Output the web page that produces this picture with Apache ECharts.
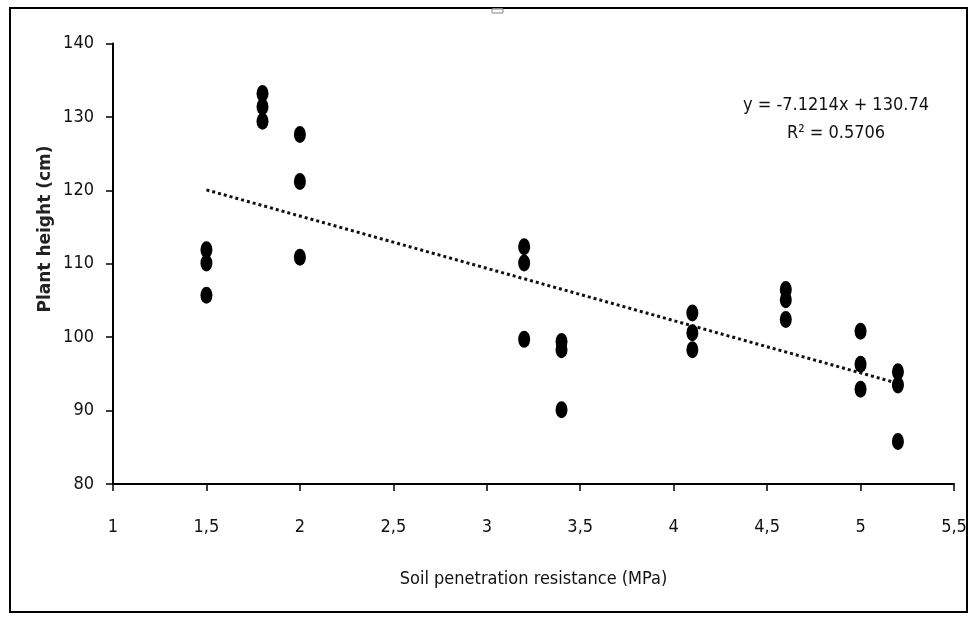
<!DOCTYPE html>
<html>
<head>
<meta charset="utf-8">
<script src="https://cdn.jsdelivr.net/npm/echarts@6/dist/echarts.min.js"></script>
<style>
  html, body { margin: 0; padding: 0; background: #fff; }
  #chart { width: 976px; height: 622px; }
</style>
</head>
<body>
<div id="chart"></div>
<script>
// soil penetration resistance (MPa) for each observation
const resistance = [
  1.5, 1.5, 1.5,
  1.8, 1.8, 1.8,
  2.0, 2.0, 2.0,
  3.2, 3.2, 3.2,
  3.4, 3.4, 3.4,
  4.1, 4.1, 4.1,
  4.6, 4.6, 4.6,
  5.0, 5.0, 5.0,
  5.2, 5.2, 5.2
]
// plant height (cm)
const plantHeight = [
  111.9, 110.1, 105.7,
  133.2, 131.4, 129.4,
  127.6, 121.2, 110.9,
  112.3, 110.1, 99.7,
  99.4, 98.3, 90.1,
  103.3, 100.6, 98.3,
  106.5, 105.1, 102.4,
  100.8, 96.3, 92.9,
  95.3, 93.5, 85.8
]
// linear trend line end points
const trendX = [1.5, 5.2]
const trendY = [120.06, 93.71]
const equationLines = ['y = -7.1214x + 130.74', 'R² = 0.5706']
const yTitle = 'Plant height (cm)'
const xTitle = 'Soil penetration resistance (MPa)'

const narrow = '"Liberation Sans Narrow", "DejaVu Sans Condensed", sans-serif'

const chart = echarts.init(document.getElementById('chart'))

chart.setOption({
  animation: false,
  backgroundColor: '#fff',
  grid: { left: 113, right: 22, top: 43.5, bottom: 138 },
  xAxis: {
    type: 'value',
    min: 1,
    max: 5.5,
    interval: 0.5,
    name: xTitle,
    nameLocation: 'middle',
    nameGap: 86,
    nameTextStyle: { fontFamily: narrow, fontSize: 18, color: '#111' },
    axisLine: { onZero: false, lineStyle: { color: '#000', width: 2 } },
    axisTick: { show: true, length: 7, lineStyle: { color: '#000', width: 1.5 } },
    axisLabel: {
      margin: 34,
      fontFamily: narrow,
      fontSize: 18,
      color: '#111',
      formatter: v => String(v).replace('.', ',')
    },
    splitLine: { show: false }
  },
  yAxis: {
    type: 'value',
    min: 80,
    max: 140,
    interval: 10,
    axisLine: { show: true, onZero: false, lineStyle: { color: '#000', width: 2 } },
    axisTick: { show: true, length: 7, lineStyle: { color: '#000', width: 1.5 } },
    axisLabel: { margin: 19, fontFamily: narrow, fontSize: 18, color: '#111' },
    splitLine: { show: false }
  },
  graphic: [
    {
      type: 'rect',
      shape: { x: 10, y: 8, width: 957, height: 604 },
      style: { fill: 'none', stroke: '#000', lineWidth: 2 },
      silent: true
    },
    {
      // small grey handle mark on the top border
      type: 'rect',
      shape: { x: 492, y: 9, width: 11, height: 4, r: 1 },
      style: { fill: 'none', stroke: '#aaa', lineWidth: 1.5 },
      silent: true
    },
    {
      // y axis title, centred a bit above the plot middle like the original
      type: 'text',
      x: 46,
      y: 229,
      rotation: Math.PI / 2,
      style: {
        text: yTitle,
        fontFamily: '"DejaVu Sans", sans-serif',
        fontSize: 17,
        fontWeight: 'bold',
        align: 'center',
        verticalAlign: 'middle',
        fill: '#222'
      }
    },
    {
      type: 'text',
      x: 836,
      y: 91,
      style: {
        text: equationLines.join('\n'),
        fontFamily: narrow,
        fontSize: 18,
        lineHeight: 28,
        align: 'center',
        fill: '#111'
      }
    }
  ],
  series: [
    {
      name: 'Plant height',
      type: 'scatter',
      symbol: 'circle',
      symbolSize: [12, 17],
      itemStyle: { color: '#000', opacity: 1 },
      data: resistance.map((x, i) => [x, plantHeight[i]]),
      z: 3
    },
    {
      name: 'Linear trend',
      type: 'line',
      symbol: 'none',
      lineStyle: { color: '#111', width: 3, type: [3, 3] },
      data: trendX.map((x, i) => [x, trendY[i]]),
      z: 2
    }
  ]
})
</script>
</body>
</html>
